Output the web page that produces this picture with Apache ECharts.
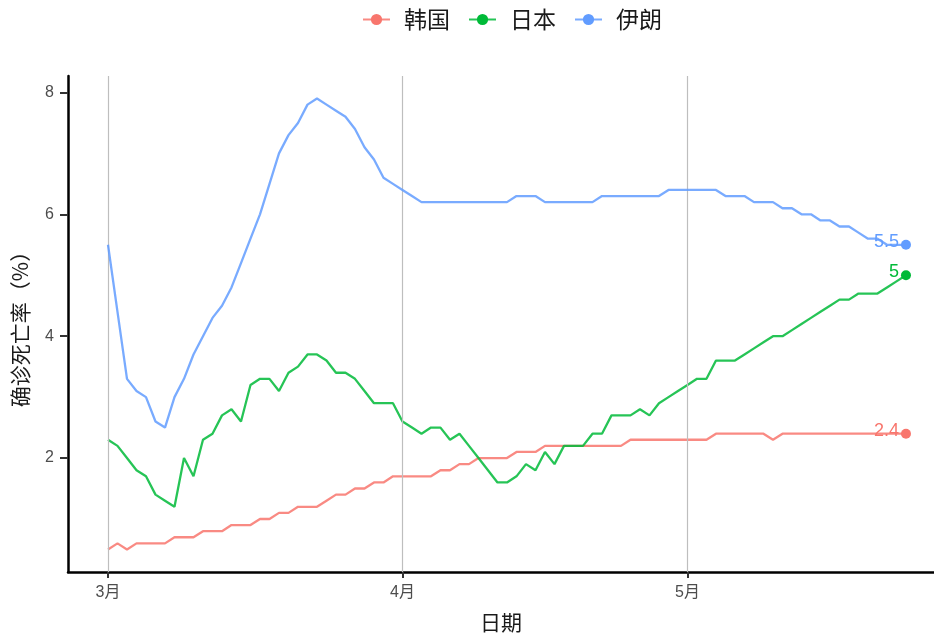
<!DOCTYPE html>
<html>
<head>
<meta charset="utf-8">
<script src="https://cdn.jsdelivr.net/npm/echarts@6/dist/echarts.min.js"></script>
<style>
  html, body { margin: 0; padding: 0; background: #ffffff; }
  #chart { width: 934px; height: 639px; }
</style>
</head>
<body>
<div id="chart"></div>
<script>
// Day index 0 = 2020-03-01, one value per day through 2020-05-24
const seriesNames = ['韩国', '日本', '伊朗'];
const seriesColors = ['#F8766D', '#00BA38', '#619CFF'];

const korea = [
  0.5,0.6,0.5,0.6,0.6,0.6,0.6,0.7,0.7,0.7,0.8,0.8,0.8,0.9,0.9,0.9,1.0,1.0,1.1,1.1,1.2,1.2,1.2,1.3,1.4,1.4,1.5,1.5,1.6,1.6,1.7,
  1.7,1.7,1.7,1.7,1.8,1.8,1.9,1.9,2.0,2.0,2.0,2.0,2.1,2.1,2.1,
  2.2,2.2,2.2,2.2,2.2,2.2,2.2,2.2,2.2,
  2.3,2.3,2.3,2.3,2.3,2.3,2.3,2.3,2.3,
  2.4,2.4,2.4,2.4,2.4,2.4,2.3,
  2.4,2.4,2.4,2.4,2.4,2.4,2.4,2.4,2.4,2.4,2.4,2.4,2.4,2.4
];
const japan = [
  2.3,2.2,2.0,1.8,1.7,1.4,1.3,1.2,2.0,1.7,2.3,2.4,2.7,2.8,2.6,3.2,3.3,3.3,3.1,3.4,3.5,3.7,3.7,3.6,3.4,3.4,3.3,3.1,2.9,2.9,2.9,
  2.6,2.5,2.4,2.5,2.5,2.3,2.4,2.2,2.0,1.8,1.6,1.6,1.7,1.9,1.8,2.1,1.9,2.2,2.2,2.2,
  2.4,2.4,2.7,2.7,2.7,2.8,2.7,2.9,3.0,3.1,3.2,3.3,3.3,3.6,3.6,3.6,3.7,3.8,3.9,4.0,
  4.0,4.1,4.2,4.3,4.4,4.5,4.6,4.6,4.7,4.7,4.7,4.8,4.9,5.0
];
const iran = [
  5.5,4.4,3.3,3.1,3.0,2.6,2.5,3.0,3.3,3.7,4.0,4.3,4.5,4.8,5.2,5.6,6.0,6.5,7.0,7.3,7.5,7.8,7.9,7.8,7.7,7.6,7.4,7.1,6.9,6.6,6.5,
  6.4,6.3,6.2,6.2,6.2,6.2,6.2,6.2,6.2,6.2,6.2,6.2,6.3,6.3,6.3,
  6.2,6.2,6.2,6.2,6.2,6.2,6.3,6.3,6.3,6.3,6.3,6.3,6.3,
  6.4,6.4,6.4,6.4,6.4,6.4,6.3,6.3,6.3,6.2,6.2,6.2,
  6.1,6.1,6.0,6.0,5.9,5.9,5.8,5.8,5.7,5.6,5.6,5.5,5.5,5.5
];

const monthTicks = [0, 31, 61];
const monthLabels = ['3月', '4月', '5月'];
const yTicks = [2, 4, 6, 8];

const allValues = [korea, japan, iran];

function buildData(arr, color) {
  const last = arr.length - 1;
  return arr.map((v, i) => {
    if (i === last) {
      return {
        value: [i, v],
        symbolSize: 10,
        itemStyle: { color: color, opacity: 1 },
        label: {
          show: true,
          position: 'left',
          distance: 2,
          offset: [0, -3],
          formatter: String(v),
          color: color,
          fontSize: 18,
          fontFamily: 'Liberation Sans, Arial, sans-serif'
        }
      };
    }
    return { value: [i, v] };
  });
}

const series = seriesNames.map((name, k) => ({
  name: name,
  type: 'line',
  data: buildData(allValues[k], seriesColors[k]),
  symbol: 'circle',
  symbolSize: 0,
  showSymbol: true,
  showAllSymbol: true,
  color: seriesColors[k],
  lineStyle: { width: 2.3, color: seriesColors[k], opacity: 0.85 },
  itemStyle: { color: seriesColors[k] },
  label: { show: false },
  emphasis: { disabled: true },
  animation: false,
  z: 3 + k
}));

// vertical month grid lines
series.push({
  name: '_grid',
  type: 'line',
  data: [],
  silent: true,
  animation: false,
  markLine: {
    silent: true,
    symbol: ['none', 'none'],
    label: { show: false },
    lineStyle: { color: '#BEBEBE', width: 1.2, type: 'solid' },
    data: monthTicks.map(t => ({ xAxis: t }))
  },
  z: 1
});

const chart = echarts.init(document.getElementById('chart'), null, { renderer: 'canvas' });
chart.setOption({
  backgroundColor: '#ffffff',
  animation: false,
  textStyle: { fontFamily: 'Noto Sans CJK SC, Liberation Sans, sans-serif' },
  legend: {
    data: seriesNames,
    top: 3,
    left: 357,
    itemWidth: 27,
    itemHeight: 14,
    itemGap: 18,
    textStyle: { fontSize: 23, color: '#1a1a1a', padding: [0, 0, 0, 9], fontFamily: 'Noto Sans CJK SC, sans-serif' }
  },
  grid: { left: 68, right: 0, top: 76, bottom: 67, outerBoundsMode: 'none', containLabel: false },
  xAxis: {
    type: 'value',
    min: -4.21,
    max: 86.95,
    name: '日期',
    nameLocation: 'middle',
    nameGap: 40,
    nameTextStyle: { fontSize: 21, color: '#1a1a1a', fontFamily: 'Noto Sans CJK SC, sans-serif' },
    axisLine: { show: true, onZero: false, lineStyle: { color: '#000000', width: 2.5 } },
    axisTick: { show: true, customValues: monthTicks, length: 6, lineStyle: { color: '#333333', width: 2 } },
    axisLabel: {
      customValues: monthTicks,
      formatter: v => monthLabels[monthTicks.indexOf(v)] || '',
      fontSize: 16,
      color: '#4D4D4D',
      margin: 13,
      fontFamily: 'Liberation Sans, Noto Sans CJK SC, sans-serif'
    },
    splitLine: { show: false }
  },
  yAxis: {
    type: 'value',
    min: 0.13,
    max: 8.27,
    name: '确诊死亡率（%）',
    nameLocation: 'middle',
    nameRotate: 90,
    nameGap: 37,
    nameTextStyle: { fontSize: 21, color: '#1a1a1a', fontFamily: 'Noto Sans CJK SC, sans-serif' },
    axisLine: { show: true, onZero: false, lineStyle: { color: '#000000', width: 2.5 } },
    axisTick: { show: true, customValues: yTicks, length: 8, lineStyle: { color: '#333333', width: 2 } },
    axisLabel: {
      customValues: yTicks,
      fontSize: 16,
      color: '#4D4D4D',
      margin: 14,
      fontFamily: 'Liberation Sans, Arial, sans-serif'
    },
    splitLine: { show: false }
  },
  series: series
});
</script>
</body>
</html>
